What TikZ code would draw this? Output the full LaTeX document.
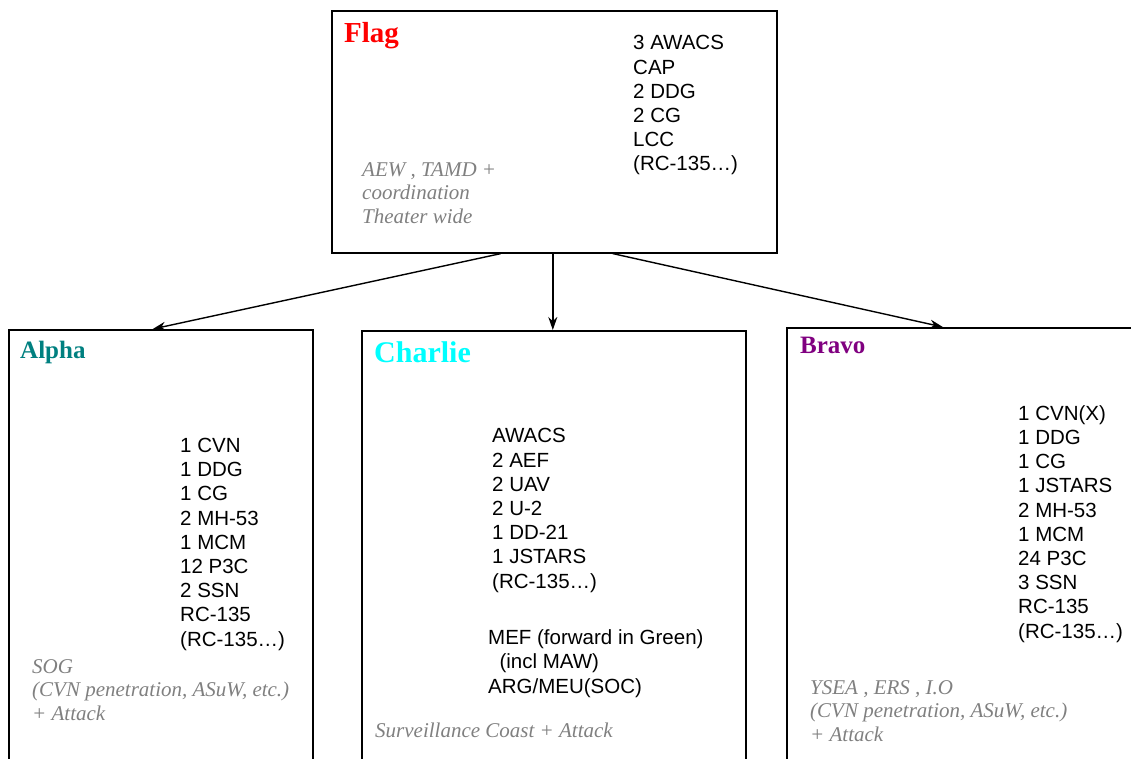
\documentclass[tikz,border=0pt]{standalone}
\usepackage{fontspec}
\setmainfont{Liberation Serif}
\setsansfont{Liberation Sans}
\usetikzlibrary{arrows.meta,positioning}
\definecolor{cRed}{RGB}{255,0,0}
\definecolor{cTeal}{RGB}{0,128,128}
\definecolor{cCyan}{RGB}{0,255,255}
\definecolor{cPurple}{RGB}{128,0,128}
\definecolor{cGrey}{RGB}{128,128,128}

\begin{document}
\begin{tikzpicture}[
 x=1pt,y=-1pt,
 group/.style={draw=black,line width=1.6pt,anchor=north west,inner sep=0pt},
 title/.style={anchor=base west,inner sep=0pt,font=\fontsize{25}{28}\selectfont\bfseries},
 kit/.style={anchor=base west,inner sep=0pt,align=left,font=\sffamily\fontsize{20.5}{24.2}\selectfont},
 role/.style={anchor=base west,inner sep=0pt,align=left,text=cGrey,font=\fontsize{21}{23.5}\selectfont\itshape},
 link/.style={draw=black,line width=1.4pt,-{Stealth[length=13pt,width=9pt]}}]
\path[use as bounding box] (0,0) rectangle (1131,759);
\clip (0,0) rectangle (1131,759);

\node[group,minimum width=445,minimum height=242] (flag) at (331,10) {};
\node[group,minimum width=304,minimum height=480] (alpha) at (8,329) {};
\node[group,minimum width=384,minimum height=480] (charlie) at (361,330) {};
\node[group,minimum width=400,minimum height=480] (bravo) at (786,327) {};

\node[title,text=cRed,font=\fontsize{29}{32}\selectfont\bfseries] (flagname) at (344,43) {Flag};
\node[kit] (flagkit) at (633,171) {3 AWACS\\CAP\\2 DDG\\2 CG\\LCC\\(RC-135\dots)};
\node[role] (flagrole) at (362,223) {AEW , TAMD +\\coordination\\Theater wide};

\node[title,text=cTeal] (alphaname) at (20,358) {Alpha};
\node[kit] (alphakit) at (180,646) {1 CVN\\1 DDG\\1 CG\\2 MH-53\\1 MCM\\12 P3C\\2 SSN\\RC-135\\(RC-135\dots)};
\node[role] (alpharole) at (32,720) {SOG\\(CVN penetration, ASuW, etc.)\\+ Attack};

\node[title,text=cCyan,font=\fontsize{30}{34}\selectfont\bfseries] (charliename) at (374,362) {Charlie};
\node[kit] (charliekit) at (492,588) {AWACS\\2 AEF\\2 UAV\\2 U-2\\1 DD-21\\1 JSTARS\\(RC-135\dots)};
\node[kit] (charliemef) at (488,693) {MEF (forward in Green)\\\ \ (incl MAW)\\ARG/MEU(SOC)};
\node[role] (charlierole) at (375,737) {Surveillance Coast + Attack};

\node[title,text=cPurple] (bravoname) at (800,353) {Bravo};
\node[kit] (bravokit) at (1018,638) {1 CVN(X)\\1 DDG\\1 CG\\1 JSTARS\\2 MH-53\\1 MCM\\24 P3C\\3 SSN\\RC-135\\(RC-135\dots)};
\node[role] (bravorole) at (810,741) {YSEA , ERS , I.O\\(CVN penetration, ASuW, etc.)\\+ Attack};

\draw[link] ([xshift=-53.5]flag.south) -- ([xshift=-8]alpha.north);
\draw[link] ([xshift=-1.5]flag.south) -- ([xshift=-1]charlie.north);
\draw[link] ([xshift=58.5]flag.south) -- ([xshift=-44]bravo.north);
\end{tikzpicture}
\end{document}
